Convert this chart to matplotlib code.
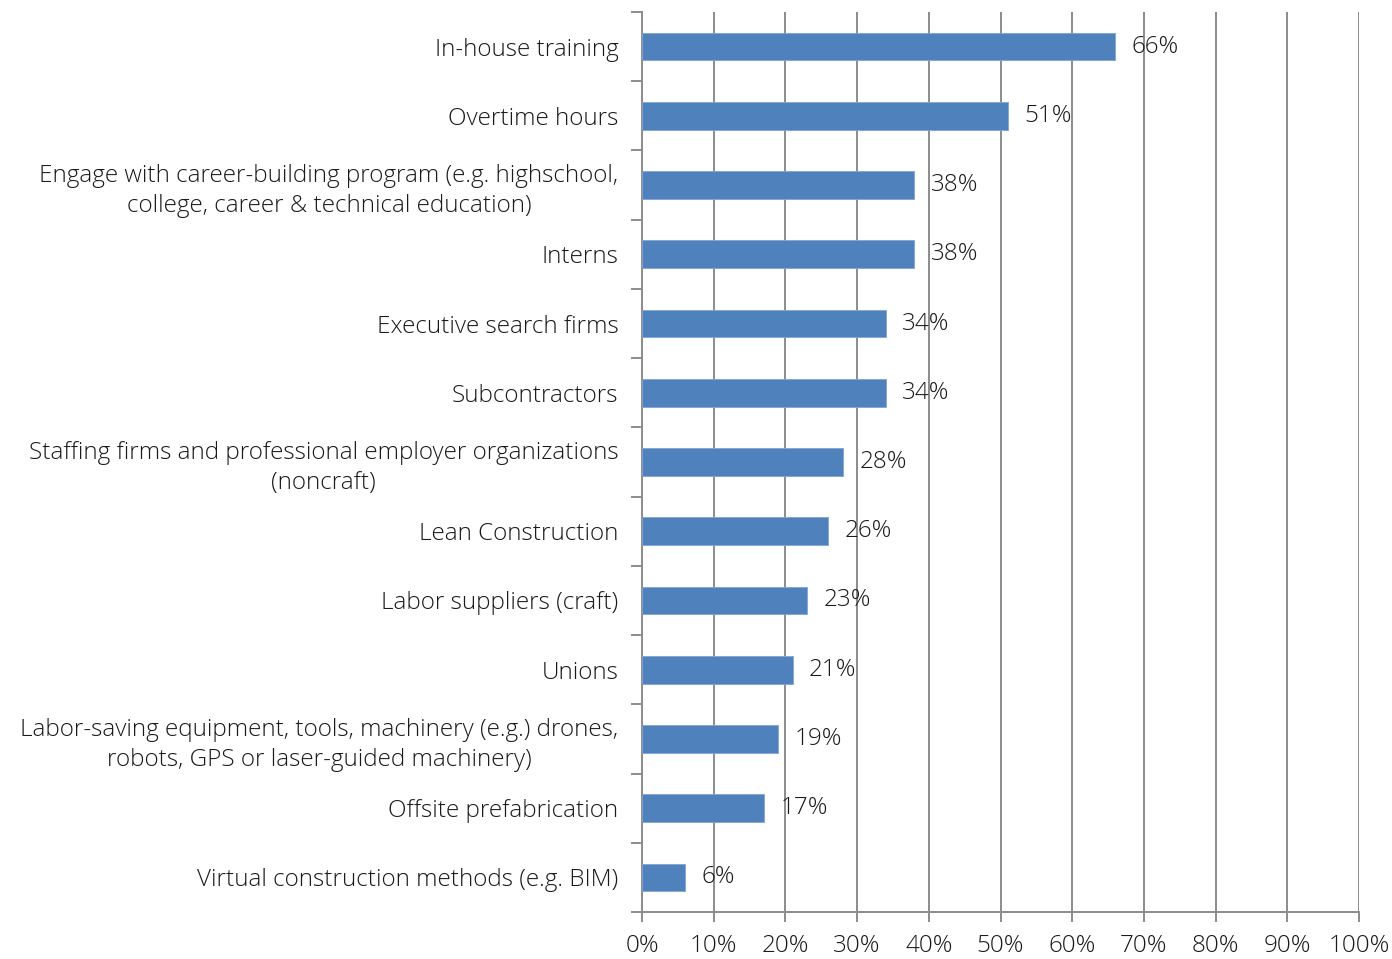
import matplotlib.pyplot as plt
import numpy as np

categories = [
    "In-house training",
    "Overtime hours",
    "Engage with career-building program (e.g. highschool,\ncollege, career & technical education)",
    "Interns",
    "Executive search firms",
    "Subcontractors",
    "Staffing firms and professional employer organizations\n(noncraft)",
    "Lean Construction",
    "Labor suppliers (craft)",
    "Unions",
    "Labor-saving equipment, tools, machinery (e.g.) drones,\nrobots, GPS or laser-guided machinery)",
    "Offsite prefabrication",
    "Virtual construction methods (e.g. BIM)",
]
values = [66, 51, 38, 38, 34, 34, 28, 26, 23, 21, 19, 17, 6]
xticks = [0, 10, 20, 30, 40, 50, 60, 70, 80, 90, 100]

plt.rcParams['font.family'] = ['Open Sans', 'DejaVu Sans']
plt.rcParams['font.weight'] = 300

txt = '#1a1a1a'
fs = 17.5

fig = plt.figure(figsize=(13.92, 9.59), dpi=100)
ax = fig.add_axes([642/1392, 1-912/959, (1359-642)/1392, 900/959])

n = len(categories)
y = np.arange(n)
ax.barh(y, values, height=0.4, color='#4F81BD', edgecolor='#7FA4D4', linewidth=0.6, zorder=3)

for yi, v in zip(y, values):
    ax.text(v + 2.3, yi, f"{v}%", va='center', ha='left', fontsize=fs,
            color=txt, zorder=1)

ax.set_xlim(0, 100)
ax.set_ylim(n - 0.5, -0.5)
ax.set_xticks(xticks)
ax.set_xticklabels([f"{t}%" for t in xticks], fontsize=fs, color=txt)
ax.xaxis.grid(True, color='#8c8c8c', linewidth=1.4, zorder=0)
ax.set_axisbelow(True)

# category labels sit between boundary ticks
ax.set_yticks(np.arange(n + 1) - 0.5)
ax.set_yticklabels([])
ax.set_yticks(y, minor=True)
ax.set_yticklabels(categories, minor=True, fontsize=fs, color=txt,
                   multialignment='center', linespacing=1.35)
ax.tick_params(axis='y', which='minor', length=0, pad=17)
ax.tick_params(axis='y', which='major', length=8, width=1.4, color='#8c8c8c')
ax.tick_params(axis='x', length=7, width=1.4, color='#8c8c8c', pad=9)

for s in ['top', 'right']:
    ax.spines[s].set_visible(False)
for s in ['left', 'bottom']:
    ax.spines[s].set_color('#8c8c8c')
    ax.spines[s].set_linewidth(1.4)

fig.savefig("out.png", dpi=100)
